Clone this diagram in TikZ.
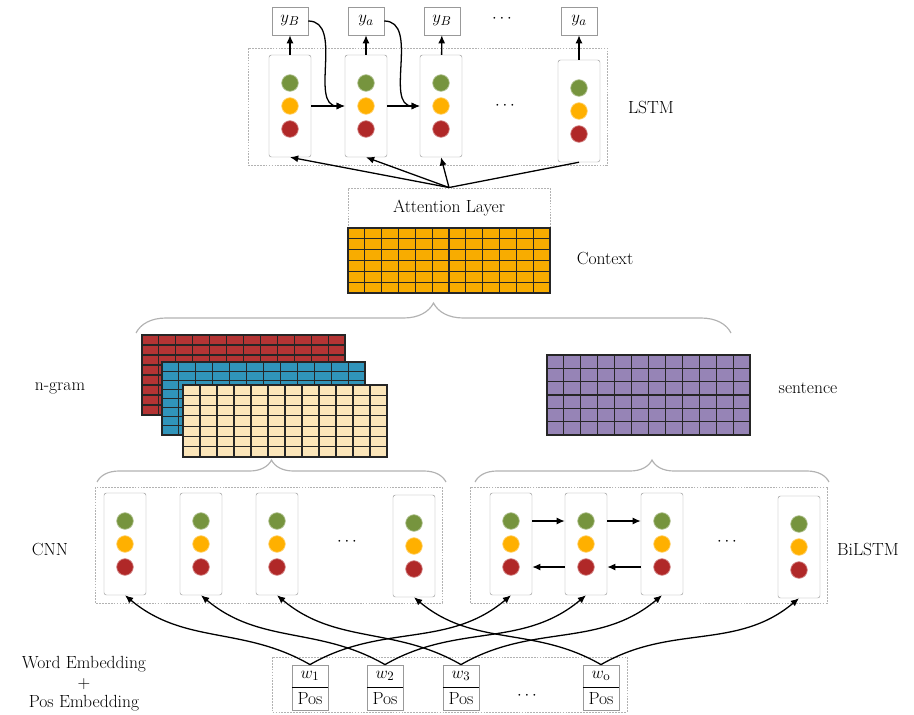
\documentclass[tikz,border=0pt]{standalone}
\usetikzlibrary{arrows.meta,calc,positioning,decorations.pathreplacing}

\definecolor{dotgreen}{RGB}{118,148,62}
\definecolor{dotorange}{RGB}{255,176,0}
\definecolor{dotred}{RGB}{176,40,40}
\definecolor{ctxorange}{RGB}{248,172,0}
\definecolor{gramred}{RGB}{180,52,52}
\definecolor{gramblue}{RGB}{48,148,186}
\definecolor{gramcream}{RGB}{252,230,186}
\definecolor{sentpurple}{RGB}{150,132,182}

\tikzset{
  cell/.style={draw=gray!80, rounded corners=2pt, minimum width=1.26cm, minimum height=3.06cm, inner sep=0pt},
  neuron/.style={circle, draw=#1!55!white, fill=#1, minimum size=0.5cm, inner sep=0pt, line width=0.6pt},
  outbox/.style={draw=gray!80, minimum width=1.08cm, minimum height=0.84cm, inner sep=0pt},
  wordbox/.style={draw=gray!80, minimum width=1.08cm, minimum height=0.67cm, inner sep=0pt},
  matbox/.style={draw=black!85, line width=0.9pt, inner sep=0pt, outer sep=0pt},
  layerbox/.style={draw=gray!60, dash pattern=on 1.5pt off 1pt, line width=0.8pt},
  arr/.style={-{Latex[length=7pt,width=6pt]}, line width=1.1pt},
  curly/.style={decorate, decoration={brace, amplitude=#1}, draw=gray!60, line width=1pt}
}

% one recurrent / conv unit with three neurons
\newcommand{\rnncell}[3]{%
  \node[cell] (#1) at (#2,#3) {};
  \node[neuron=dotgreen] (#1g) at (#2,#3-23) {};
  \node[neuron=dotorange] (#1o) at (#2,#3) {};
  \node[neuron=dotred] (#1r) at (#2,#3+23) {};
}
% grid lines inside a matrix node
\newcommand{\gridlines}[3]{%
  \foreach \i in {1,...,#2}
    \draw[black!85, line width=0.9pt] ($(#1.north west)!\i/#2!(#1.north east)$) -- ($(#1.south west)!\i/#2!(#1.south east)$);
  \foreach \j in {1,...,#3}
    \draw[black!85, line width=0.9pt] ($(#1.north west)!\j/#3!(#1.south west)$) -- ($(#1.north east)!\j/#3!(#1.south east)$);
}

\begin{document}
\begin{tikzpicture}[x=0.03cm, y=-0.03cm, every node/.append style={font=\fontsize{15}{16.5}\selectfont}]
\useasboundingbox (0,0) rectangle (914,714);

% LSTM decoder
\draw[layerbox] (248,48) rectangle (607,165);
\rnncell{lstm1}{290}{106}
\rnncell{lstm2}{366}{106}
\rnncell{lstm3}{441}{106}
\rnncell{lstm4}{579}{111}
\node (lstmdots) at (505,106) {$\cdots$};
\node[outbox] (out1) at (290,21) {$y_B$};
\node[outbox] (out2) at (366,21) {$y_a$};
\node[outbox] (out3) at (442,21) {$y_B$};
\node (outdots) at (502,19) {$\cdots$};
\node[outbox] (out4) at (579,21) {$y_a$};
\node (lstmtxt) at (651,107) {LSTM};
\draw[arr] (lstm1) -- (out1);
\draw[arr] (lstm2) -- (out2);
\draw[arr] (lstm3) -- (out3);
\draw[arr] (lstm4) -- (out4);
\draw[arr] (lstm1) -- (lstm2);
\draw[arr] (lstm2) -- (lstm3);
\draw[arr] (out1.east) to[out=0,in=180] (lstm2.west);
\draw[arr] (out2.east) to[out=0,in=180] (lstm3.west);

% attention and context
\node[layerbox, minimum width=6.06cm, minimum height=1.2cm] (attn) at (449,208) {Attention Layer};
\draw[arr] (attn.north) -- (lstm1.south);
\draw[arr] (attn.north) -- (lstm2.south);
\draw[arr] (attn.north) -- (lstm3.south);
\draw[line width=1.1pt] (attn.north) -- (lstm4.south);
\node[matbox, fill=ctxorange, minimum width=6.06cm, minimum height=1.95cm] (context) at (449,260.5) {};
\gridlines{context}{12}{6}
\node (contexttxt) at (605,258) {Context};
\draw[curly=0.9cm] (136,333) -- (731,333);

% n-gram and sentence features
\node[matbox, fill=gramred, minimum width=6.09cm, minimum height=2.4cm] (gram1) at (243.5,375) {};
\gridlines{gram1}{12}{8}
\node[matbox, fill=gramblue, minimum width=6.09cm, minimum height=2.19cm] (gram2) at (263.5,398.5) {};
\gridlines{gram2}{12}{8}
\node[matbox, fill=gramcream, minimum width=6.12cm, minimum height=2.16cm] (gram3) at (285,421) {};
\gridlines{gram3}{12}{7}
\node[matbox, fill=sentpurple, minimum width=6.09cm, minimum height=2.4cm] (sent) at (648.5,395) {};
\gridlines{sent}{12}{6}
\node (gramtxt) at (60,388) {n-gram};
\node (senttxt) at (808,388) {sentence};
\draw[curly=0.66cm] (97,482) -- (446,482);
\draw[curly=0.66cm] (475,482) -- (829,482);

% CNN encoder
\draw[layerbox] (95,487) rectangle (442,603);
\rnncell{cnn1}{125}{544}
\rnncell{cnn2}{201}{544}
\rnncell{cnn3}{277}{544}
\rnncell{cnn4}{414}{546}
\node (cnndots) at (347,542) {$\cdots$};
\node (cnntxt) at (50,549) {CNN};

% BiLSTM encoder
\draw[layerbox] (470,487) rectangle (827,603);
\rnncell{bil1}{511}{544}
\rnncell{bil2}{586}{544}
\rnncell{bil3}{662}{544}
\rnncell{bil4}{799}{547}
\node (bildots) at (727,542) {$\cdots$};
\node (biltxt) at (868,549) {BiLSTM};
\draw[arr] (bil1.east |- bil1g) -- (bil2.west |- bil1g);
\draw[arr] (bil2.east |- bil2g) -- (bil3.west |- bil2g);
\draw[arr] (bil2.west |- bil1r) -- (bil1.east |- bil1r);
\draw[arr] (bil3.west |- bil2r) -- (bil2.east |- bil2r);

% word + pos embedding input
\draw[layerbox] (272,657) rectangle (627,712);
\node[wordbox] (w1) at (310,676) {$w_1$};
\node[wordbox] (w2) at (385,676) {$w_2$};
\node[wordbox] (w3) at (461,676) {$w_3$};
\node[wordbox] (wo) at (601,676) {$w_\mathrm{o}$};
\node[wordbox, below=0pt of w1] (pos1) {Pos};
\node[wordbox, below=0pt of w2] (pos2) {Pos};
\node[wordbox, below=0pt of w3] (pos3) {Pos};
\node[wordbox, below=0pt of wo] (poso) {Pos};
\draw[line width=1.2pt] (w1.south west) -- (w1.south east);
\draw[line width=1.2pt] (w2.south west) -- (w2.south east);
\draw[line width=1.2pt] (w3.south west) -- (w3.south east);
\draw[line width=1.2pt] (wo.south west) -- (wo.south east);
\node (worddots) at (527,696) {$\cdots$};
\node[align=center] (embtxt) at (84,684) {Word Embedding\\+\\Pos Embedding};

\draw[arr] (w1.north) to[out=150,in=-40] (cnn1.south);
\draw[arr] (w2.north) to[out=150,in=-40] (cnn2.south);
\draw[arr] (w3.north) to[out=150,in=-40] (cnn3.south);
\draw[arr] (wo.north) to[out=150,in=-40] (cnn4.south);
\draw[arr] (w1.north) to[out=30,in=-140] (bil1.south);
\draw[arr] (w2.north) to[out=30,in=-140] (bil2.south);
\draw[arr] (w3.north) to[out=30,in=-140] (bil3.south);
\draw[arr] (wo.north) to[out=30,in=-140] (bil4.south);
\end{tikzpicture}
\end{document}
